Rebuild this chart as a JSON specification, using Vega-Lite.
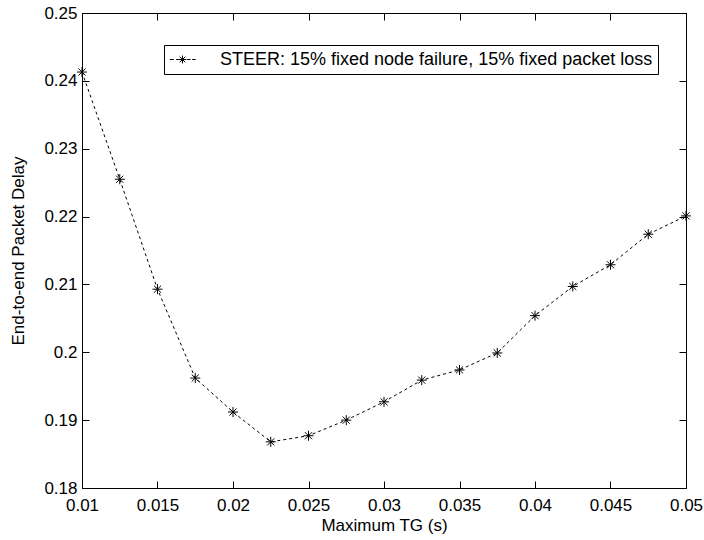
{
  "$schema": "https://vega.github.io/schema/vega-lite/v6.json",
  "width": 604,
  "height": 475,
  "autosize": {"type": "none"},
  "padding": {"left": 82, "top": 13, "right": 18, "bottom": 52},
  "background": "white",
  "data": {
    "values": [
      {"tg": 0.01, "delay": 0.2413, "series": "STEER: 15% fixed node failure, 15% fixed packet loss"},
      {"tg": 0.0125, "delay": 0.2255, "series": "STEER: 15% fixed node failure, 15% fixed packet loss"},
      {"tg": 0.015, "delay": 0.2093, "series": "STEER: 15% fixed node failure, 15% fixed packet loss"},
      {"tg": 0.0175, "delay": 0.1962, "series": "STEER: 15% fixed node failure, 15% fixed packet loss"},
      {"tg": 0.02, "delay": 0.1912, "series": "STEER: 15% fixed node failure, 15% fixed packet loss"},
      {"tg": 0.0225, "delay": 0.1868, "series": "STEER: 15% fixed node failure, 15% fixed packet loss"},
      {"tg": 0.025, "delay": 0.1877, "series": "STEER: 15% fixed node failure, 15% fixed packet loss"},
      {"tg": 0.0275, "delay": 0.19, "series": "STEER: 15% fixed node failure, 15% fixed packet loss"},
      {"tg": 0.03, "delay": 0.1927, "series": "STEER: 15% fixed node failure, 15% fixed packet loss"},
      {"tg": 0.0325, "delay": 0.1959, "series": "STEER: 15% fixed node failure, 15% fixed packet loss"},
      {"tg": 0.035, "delay": 0.1974, "series": "STEER: 15% fixed node failure, 15% fixed packet loss"},
      {"tg": 0.0375, "delay": 0.1999, "series": "STEER: 15% fixed node failure, 15% fixed packet loss"},
      {"tg": 0.04, "delay": 0.2054, "series": "STEER: 15% fixed node failure, 15% fixed packet loss"},
      {"tg": 0.0425, "delay": 0.2097, "series": "STEER: 15% fixed node failure, 15% fixed packet loss"},
      {"tg": 0.045, "delay": 0.2129, "series": "STEER: 15% fixed node failure, 15% fixed packet loss"},
      {"tg": 0.0475, "delay": 0.2174, "series": "STEER: 15% fixed node failure, 15% fixed packet loss"},
      {"tg": 0.05, "delay": 0.2201, "series": "STEER: 15% fixed node failure, 15% fixed packet loss"}
    ]
  },
  "layer": [
    {
      "mark": {"type": "line", "color": "black", "strokeWidth": 1, "strokeDash": [3, 3]},
      "encoding": {
        "x": {
          "field": "tg", "type": "quantitative",
          "scale": {"domain": [0.01, 0.05], "nice": false, "zero": false},
          "axis": {
            "orient": "bottom",
            "values": [0.01, 0.015, 0.02, 0.025, 0.03, 0.035, 0.04, 0.045, 0.05],
            "format": ".3~f",
            "tickSize": -7,
            "labelPadding": 16,
            "title": "Maximum TG (s)",
            "titlePadding": 4
          }
        },
        "y": {
          "field": "delay", "type": "quantitative",
          "scale": {"domain": [0.18, 0.25], "nice": false, "zero": false},
          "axis": {
            "orient": "left",
            "values": [0.18, 0.19, 0.2, 0.21, 0.22, 0.23, 0.24, 0.25],
            "format": ".2~f",
            "tickSize": -7,
            "labelPadding": 12,
            "title": "End-to-end Packet Delay",
            "titlePadding": 16
          }
        }
      }
    },
    {
      "mark": {"type": "point", "filled": false, "strokeWidth": 1, "size": 100, "opacity": 1,
               "shape": "M0,-1L0,1M-1,0L1,0M-0.71,-0.71L0.71,0.71M-0.71,0.71L0.71,-0.71"},
      "encoding": {
        "x": {
          "field": "tg", "type": "quantitative",
          "axis": {"orient": "top", "labels": false, "title": null, "tickSize": -7,
                   "values": [0.01, 0.015, 0.02, 0.025, 0.03, 0.035, 0.04, 0.045, 0.05]}
        },
        "y": {
          "field": "delay", "type": "quantitative",
          "axis": {"orient": "right", "labels": false, "title": null, "tickSize": -7,
                   "values": [0.18, 0.19, 0.2, 0.21, 0.22, 0.23, 0.24, 0.25]}
        },
        "color": {
          "field": "series", "type": "nominal",
          "scale": {"range": ["black"]},
          "legend": {
            "orient": "none",
            "legendX": 82,
            "legendY": 32,
            "title": null,
            "strokeColor": "black",
            "fillColor": "white",
            "padding": 5,
            "symbolType": "M-0.97,0L-0.52,0M-0.26,0L0.03,0M0.44,-0.44L0.44,0.44M0,0L0.88,0M0.13,-0.31L0.75,0.31M0.13,0.31L0.75,-0.31M0.97,0L1.33,0M1.52,0L1.89,0",
            "symbolSize": 324,
            "symbolStrokeWidth": 1,
            "symbolStrokeColor": "black",
            "labelFontSize": 18,
            "labelOffset": 32,
            "labelLimit": 0,
            "labelColor": "black",
            "labelFont": "Liberation Sans"
          }
        }
      }
    }
  ],
  "resolve": {"axis": {"x": "independent", "y": "independent"}},
  "config": {
    "view": {"stroke": "black", "strokeWidth": 1},
    "font": "Liberation Sans",
    "axis": {
      "grid": false,
      "zindex": 1,
      "ticks": true,
      "tickWidth": 1,
      "tickOpacity": 1,
      "labelFlush": false,
      "labelOverlap": false,
      "domainColor": "black",
      "tickColor": "black",
      "labelColor": "black",
      "titleColor": "black",
      "labelFont": "Liberation Sans",
      "titleFont": "Liberation Sans",
      "labelFontSize": 17,
      "titleFontSize": 17,
      "titleFontWeight": "normal"
    }
  }
}
